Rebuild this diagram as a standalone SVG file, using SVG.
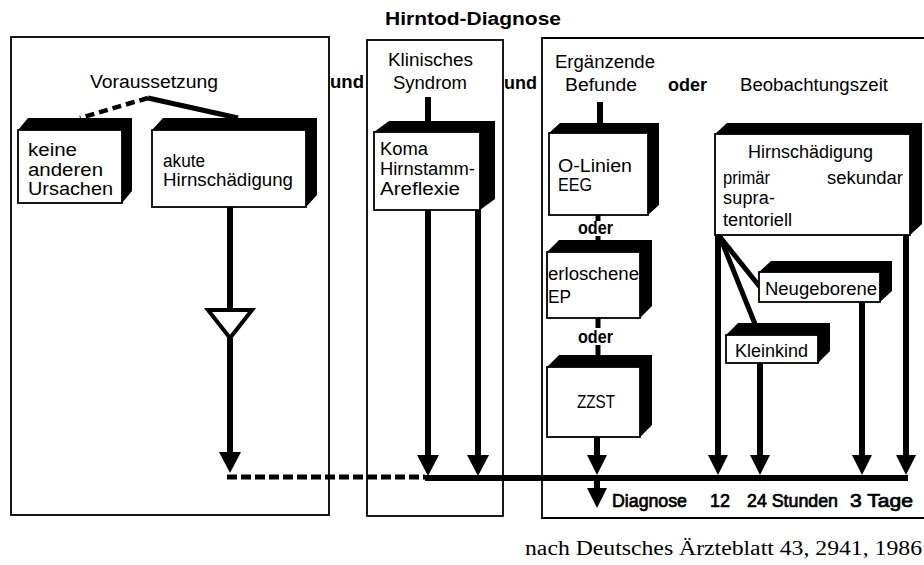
<svg xmlns="http://www.w3.org/2000/svg" xmlns:xlink="http://www.w3.org/1999/xlink" width="924" height="565" viewBox="0 0 924 565">
<style>
.t{font-family:"Liberation Sans",Arial,sans-serif;font-size:18px;fill:#000}
.b{font-weight:bold}
.hv{stroke:#000;stroke-width:0.7}
.cap{font-family:"Liberation Serif","Times New Roman",serif;font-size:20px;fill:#000}
.panel{fill:none;stroke:#000;stroke-width:1.8}
.ext{fill:#000}
.face{fill:#fff;stroke:#000;stroke-width:1.8}
.ln{stroke:#000;stroke-width:6;fill:none}
.ln5{stroke:#000;stroke-width:5;fill:none}
.dash{stroke:#000;stroke-width:5;fill:none;stroke-dasharray:10 4}
.dash2{stroke:#000;stroke-width:4.5;fill:none;stroke-dasharray:9 5}
</style>
<defs>
<path id="ah" d="M-11,-21 L11,-21 L0,0 Z" fill="#000"/>
<path id="ahs" d="M-10,-20 L10,-20 L0,0 Z" fill="#000"/>
</defs>
<rect width="924" height="565" fill="#fff"/>

<g id="title">
<text class="t b" x="385" y="25" textLength="176" lengthAdjust="spacingAndGlyphs">Hirntod-Diagnose</text>
</g>

<g id="panels">
<rect id="panel-voraussetzung" class="panel" x="11" y="37" width="318" height="478"/>
<rect id="panel-klinisch" class="panel" x="367" y="40" width="136" height="476"/>
<path id="panel-ergaenzend" class="panel" d="M926,38 H542 V518 H926"/>
</g>

<g id="labels">
<text class="t" x="90" y="88" textLength="128" lengthAdjust="spacingAndGlyphs">Voraussetzung</text>
<text class="t b" x="330" y="88" textLength="34" lengthAdjust="spacingAndGlyphs">und</text>
<text class="t" x="388" y="66" textLength="85" lengthAdjust="spacingAndGlyphs">Klinisches</text>
<text class="t" x="393" y="89" textLength="74" lengthAdjust="spacingAndGlyphs">Syndrom</text>
<text class="t b" x="504" y="89" textLength="33" lengthAdjust="spacingAndGlyphs">und</text>
<text class="t" x="555" y="68" textLength="100" lengthAdjust="spacingAndGlyphs">Ergänzende</text>
<text class="t" x="565" y="91" textLength="72" lengthAdjust="spacingAndGlyphs">Befunde</text>
<text class="t b" x="668" y="91" textLength="39" lengthAdjust="spacingAndGlyphs">oder</text>
<text class="t" x="740" y="91" textLength="148" lengthAdjust="spacingAndGlyphs">Beobachtungszeit</text>
<text class="t b" x="578" y="234" textLength="35" lengthAdjust="spacingAndGlyphs">oder</text>
<text class="t b" x="578" y="343" textLength="35" lengthAdjust="spacingAndGlyphs">oder</text>
<text class="t hv" x="612" y="507" textLength="75" lengthAdjust="spacingAndGlyphs">Diagnose</text>
<text class="t hv" x="710" y="507" textLength="20" lengthAdjust="spacingAndGlyphs">12</text>
<text class="t hv" x="747" y="507" textLength="91" lengthAdjust="spacingAndGlyphs">24 Stunden</text>
<text class="t hv" x="850" y="507" textLength="63" lengthAdjust="spacingAndGlyphs">3 Tage</text>
</g>

<g id="connectors">
<line class="dash2" x1="148" y1="98" x2="80" y2="118"/>
<line class="ln5" x1="148" y1="98" x2="238" y2="118"/>
<line class="ln" x1="230" y1="207" x2="230" y2="310"/>
<polygon points="208,310 252,310 230,338" fill="#fff" stroke="#000" stroke-width="4"/>
<line class="ln" x1="230" y1="338" x2="230" y2="455"/>
<use xlink:href="#ah" x="230" y="473"/>
<line class="dash" x1="227" y1="477" x2="425" y2="477"/>
<line class="ln" x1="425" y1="478" x2="908" y2="478"/>
<line class="ln" x1="428" y1="97" x2="428" y2="122"/>
<line class="ln" x1="428" y1="210" x2="428" y2="456"/>
<use xlink:href="#ah" x="428" y="476"/>
<line class="ln" x1="478" y1="210" x2="478" y2="456"/>
<use xlink:href="#ah" x="478" y="476"/>
<line class="ln" x1="600" y1="102" x2="600" y2="124"/>
<line class="ln5" x1="598" y1="215" x2="598" y2="221"/>
<line class="ln5" x1="598" y1="236" x2="598" y2="241"/>
<line class="ln5" x1="598" y1="318" x2="598" y2="328"/>
<line class="ln5" x1="598" y1="345" x2="598" y2="356"/>
<line class="ln" x1="597" y1="437" x2="597" y2="457"/>
<use xlink:href="#ahs" x="597" y="475"/>
<line class="ln" x1="597" y1="478" x2="597" y2="489"/>
<use xlink:href="#ahs" x="597" y="508"/>
<line class="ln" x1="718" y1="235" x2="718" y2="457"/>
<use xlink:href="#ahs" x="718" y="475"/>
<line class="ln5" x1="720" y1="237" x2="760" y2="287"/>
<line class="ln5" x1="720" y1="237" x2="755" y2="324"/>
<line class="ln" x1="760" y1="363" x2="760" y2="457"/>
<use xlink:href="#ahs" x="760" y="475"/>
<line class="ln" x1="862" y1="302" x2="862" y2="457"/>
<use xlink:href="#ahs" x="862" y="475"/>
<line class="ln" x1="906" y1="235" x2="906" y2="457"/>
<use xlink:href="#ahs" x="906" y="475"/>
</g>

<g id="node-keine">
<polygon class="ext" points="18,130 28,118 132,118 132,191 122,203 122,130"/>
<rect class="face" x="18" y="130" width="104" height="73"/>
<text class="t" x="28" y="156" textLength="49" lengthAdjust="spacingAndGlyphs">keine</text>
<text class="t" x="28" y="176" textLength="75" lengthAdjust="spacingAndGlyphs">anderen</text>
<text class="t" x="28" y="195" textLength="85" lengthAdjust="spacingAndGlyphs">Ursachen</text>
</g>

<g id="node-akute">
<polygon class="ext" points="152,130 163,118 317,118 317,195 306,207 306,130"/>
<rect class="face" x="152" y="130" width="154" height="77"/>
<text class="t" x="163" y="167" textLength="42" lengthAdjust="spacingAndGlyphs">akute</text>
<text class="t" x="163" y="186" textLength="130" lengthAdjust="spacingAndGlyphs">Hirnschädigung</text>
</g>

<g id="node-koma">
<polygon class="ext" points="374,132 389,121 495,121 495,199 480,210 480,132"/>
<rect class="face" x="374" y="132" width="106" height="78"/>
<text class="t" x="380" y="155" textLength="48" lengthAdjust="spacingAndGlyphs">Koma</text>
<text class="t" x="380" y="175" textLength="95" lengthAdjust="spacingAndGlyphs">Hirnstamm-</text>
<text class="t" x="380" y="195" textLength="80" lengthAdjust="spacingAndGlyphs">Areflexie</text>
</g>

<g id="node-eeg">
<polygon class="ext" points="549,133 560,123 659,123 659,205 648,215 648,133"/>
<rect class="face" x="549" y="133" width="99" height="82"/>
<text class="t" x="558" y="172" textLength="74" lengthAdjust="spacingAndGlyphs">O-Linien</text>
<text class="t" x="558" y="191" textLength="34" lengthAdjust="spacingAndGlyphs">EEG</text>
</g>

<g id="node-ep">
<polygon class="ext" points="547,252 559,240 652,240 652,306 640,318 640,252"/>
<rect class="face" x="547" y="252" width="93" height="66"/>
<text class="t" x="548" y="280" textLength="91" lengthAdjust="spacingAndGlyphs">erloschene</text>
<text class="t" x="548" y="303" textLength="23" lengthAdjust="spacingAndGlyphs">EP</text>
</g>

<g id="node-zzst">
<polygon class="ext" points="547,367 559,355 652,355 652,425 640,437 640,367"/>
<rect class="face" x="547" y="367" width="93" height="70"/>
<text class="t" x="577" y="408" textLength="38" lengthAdjust="spacingAndGlyphs">ZZST</text>
</g>

<g id="node-hirnschaedigung">
<polygon class="ext" points="715,134 727,123 922,123 922,224 910,235 910,134"/>
<rect class="face" x="715" y="134" width="195" height="101"/>
<text class="t" x="748" y="158" textLength="125" lengthAdjust="spacingAndGlyphs">Hirnschädigung</text>
<text class="t" x="723" y="184" textLength="47" lengthAdjust="spacingAndGlyphs">primär</text>
<text class="t" x="827" y="184" textLength="76" lengthAdjust="spacingAndGlyphs">sekundar</text>
<text class="t" x="723" y="204" textLength="52" lengthAdjust="spacing">supra-</text>
<text class="t" x="723" y="226" textLength="69" lengthAdjust="spacingAndGlyphs">tentoriell</text>
</g>

<g id="node-neugeborene">
<polygon class="ext" points="759,272 771,261 892,261 892,291 880,302 880,272"/>
<rect class="face" x="759" y="272" width="121" height="30"/>
<text class="t" x="765" y="295" textLength="112" lengthAdjust="spacingAndGlyphs">Neugeborene</text>
</g>

<g id="node-kleinkind">
<polygon class="ext" points="726,335 738,323 830,323 830,351 818,363 818,335"/>
<rect class="face" x="726" y="335" width="92" height="28"/>
<text class="t" x="735" y="357" textLength="73" lengthAdjust="spacingAndGlyphs">Kleinkind</text>
</g>

<g id="caption">
<text class="cap" x="525" y="555" textLength="397" lengthAdjust="spacingAndGlyphs">nach Deutsches Ärzteblatt 43, 2941, 1986</text>
</g>
</svg>
